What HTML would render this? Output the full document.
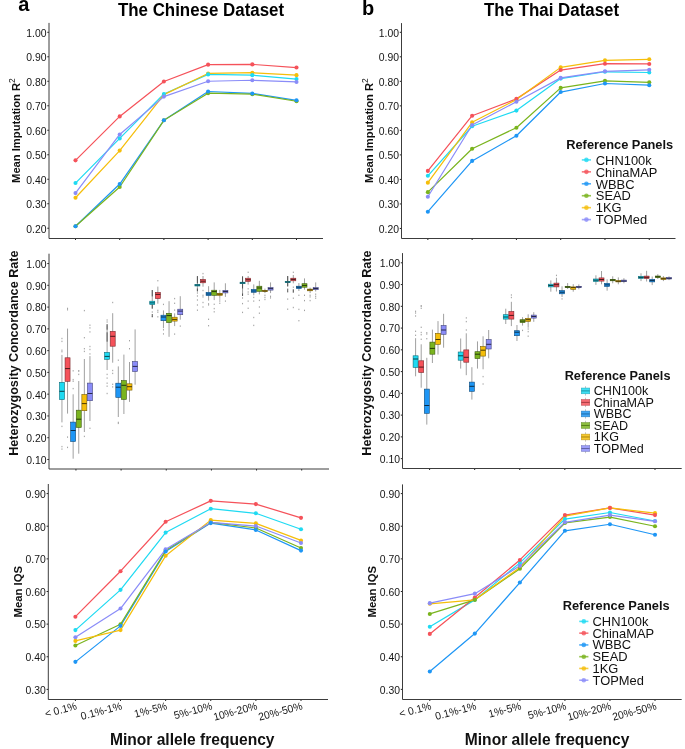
<!DOCTYPE html><html><head><meta charset="utf-8"><style>html,body{margin:0;padding:0;background:#fff}svg{display:block}text{font-family:"Liberation Sans",sans-serif}</style></head><body><div style="will-change:transform">
<svg width="685" height="749" viewBox="0 0 685 749" font-family="Liberation Sans, sans-serif">
<rect width="685" height="749" fill="#fff"/>
<text transform="translate(18.20,10.80) scale(1,1.04)" font-size="20" font-weight="bold" fill="#000">a</text>
<text transform="translate(361.90,14.80) scale(1,1.04)" font-size="20" font-weight="bold" fill="#000">b</text>
<text transform="translate(201.00,15.50) scale(1,1.04)" text-anchor="middle" font-size="16.9" font-weight="bold" fill="#000">The Chinese Dataset</text>
<text transform="translate(551.50,15.50) scale(1,1.04)" text-anchor="middle" font-size="16.9" font-weight="bold" fill="#000">The Thai Dataset</text>
<text transform="translate(20.20,130.60) rotate(-90) scale(1,1.04)" text-anchor="middle" font-size="11.2" font-weight="bold" fill="#111">Mean Imputation R<tspan font-size="8.4" font-weight="normal" dy="-5.0">2</tspan></text>
<text transform="translate(373.10,130.60) rotate(-90) scale(1,1.04)" text-anchor="middle" font-size="11.2" font-weight="bold" fill="#111">Mean Imputation R<tspan font-size="8.4" font-weight="normal" dy="-5.0">2</tspan></text>
<text transform="translate(17.80,353.15) rotate(-90) scale(1,1.04)" text-anchor="middle" font-size="12.62" font-weight="bold" fill="#111">Heterozygosity Concordance Rate</text>
<text transform="translate(371.00,353.05) rotate(-90) scale(1,1.04)" text-anchor="middle" font-size="12.62" font-weight="bold" fill="#111">Heterozygosity Concordance Rate</text>
<text transform="translate(22.00,591.70) rotate(-90) scale(1,1.04)" text-anchor="middle" font-size="11.3" font-weight="bold" fill="#111">Mean IQS</text>
<text transform="translate(375.60,591.70) rotate(-90) scale(1,1.04)" text-anchor="middle" font-size="11.3" font-weight="bold" fill="#111">Mean IQS</text>
<text transform="translate(192.20,744.60) scale(1,1.04)" text-anchor="middle" font-size="15.6" font-weight="bold" fill="#111">Minor allele frequency</text>
<text transform="translate(547.10,744.60) scale(1,1.04)" text-anchor="middle" font-size="15.6" font-weight="bold" fill="#111">Minor allele frequency</text>
<text transform="translate(46.50,232.57)" text-anchor="end" font-size="10.4" fill="#151515">0.20</text>
<line x1="47.30" y1="228.22" x2="49.00" y2="228.22" stroke="#222" stroke-width="1"/>
<text transform="translate(46.50,208.08)" text-anchor="end" font-size="10.4" fill="#151515">0.30</text>
<line x1="47.30" y1="203.73" x2="49.00" y2="203.73" stroke="#222" stroke-width="1"/>
<text transform="translate(46.50,183.59)" text-anchor="end" font-size="10.4" fill="#151515">0.40</text>
<line x1="47.30" y1="179.24" x2="49.00" y2="179.24" stroke="#222" stroke-width="1"/>
<text transform="translate(46.50,159.10)" text-anchor="end" font-size="10.4" fill="#151515">0.50</text>
<line x1="47.30" y1="154.75" x2="49.00" y2="154.75" stroke="#222" stroke-width="1"/>
<text transform="translate(46.50,134.61)" text-anchor="end" font-size="10.4" fill="#151515">0.60</text>
<line x1="47.30" y1="130.26" x2="49.00" y2="130.26" stroke="#222" stroke-width="1"/>
<text transform="translate(46.50,110.12)" text-anchor="end" font-size="10.4" fill="#151515">0.70</text>
<line x1="47.30" y1="105.77" x2="49.00" y2="105.77" stroke="#222" stroke-width="1"/>
<text transform="translate(46.50,85.63)" text-anchor="end" font-size="10.4" fill="#151515">0.80</text>
<line x1="47.30" y1="81.28" x2="49.00" y2="81.28" stroke="#222" stroke-width="1"/>
<text transform="translate(46.50,61.14)" text-anchor="end" font-size="10.4" fill="#151515">0.90</text>
<line x1="47.30" y1="56.79" x2="49.00" y2="56.79" stroke="#222" stroke-width="1"/>
<text transform="translate(46.50,36.65)" text-anchor="end" font-size="10.4" fill="#151515">1.00</text>
<line x1="47.30" y1="32.30" x2="49.00" y2="32.30" stroke="#222" stroke-width="1"/>
<line x1="75.50" y1="238.50" x2="75.50" y2="240.00" stroke="#222" stroke-width="1"/>
<line x1="119.70" y1="238.50" x2="119.70" y2="240.00" stroke="#222" stroke-width="1"/>
<line x1="163.90" y1="238.50" x2="163.90" y2="240.00" stroke="#222" stroke-width="1"/>
<line x1="208.10" y1="238.50" x2="208.10" y2="240.00" stroke="#222" stroke-width="1"/>
<line x1="252.30" y1="238.50" x2="252.30" y2="240.00" stroke="#222" stroke-width="1"/>
<line x1="296.50" y1="238.50" x2="296.50" y2="240.00" stroke="#222" stroke-width="1"/>
<path d="M49.00,22.90 V238.50 H323.00" fill="none" stroke="#3c3c3c" stroke-width="1.0"/>
<polyline points="75.50,183.07 119.70,138.38 163.90,93.94 208.10,74.40 252.30,75.14 296.50,79.04" fill="none" stroke="#1EDAF2" stroke-width="1.22" stroke-linejoin="round"/>
<polyline points="75.50,160.36 119.70,116.40 163.90,81.48 208.10,64.63 252.30,64.39 296.50,67.56" fill="none" stroke="#F5525A" stroke-width="1.22" stroke-linejoin="round"/>
<polyline points="75.50,226.29 119.70,184.05 163.90,120.31 208.10,91.50 252.30,93.45 296.50,100.29" fill="none" stroke="#1E96F5" stroke-width="1.22" stroke-linejoin="round"/>
<polyline points="75.50,226.29 119.70,186.98 163.90,120.31 208.10,93.21 252.30,94.18 296.50,101.26" fill="none" stroke="#7AB41E" stroke-width="1.22" stroke-linejoin="round"/>
<polyline points="75.50,197.72 119.70,150.59 163.90,94.67 208.10,73.43 252.30,72.69 296.50,75.14" fill="none" stroke="#F5BE0A" stroke-width="1.22" stroke-linejoin="round"/>
<polyline points="75.50,193.08 119.70,134.48 163.90,96.62 208.10,81.24 252.30,80.26 296.50,81.97" fill="none" stroke="#8A8CF8" stroke-width="1.22" stroke-linejoin="round"/>
<circle cx="75.50" cy="197.72" r="2.05" fill="#F5BE0A"/>
<circle cx="119.70" cy="150.59" r="2.05" fill="#F5BE0A"/>
<circle cx="163.90" cy="94.67" r="2.05" fill="#F5BE0A"/>
<circle cx="208.10" cy="73.43" r="2.05" fill="#F5BE0A"/>
<circle cx="252.30" cy="72.69" r="2.05" fill="#F5BE0A"/>
<circle cx="296.50" cy="75.14" r="2.05" fill="#F5BE0A"/>
<circle cx="75.50" cy="183.07" r="2.05" fill="#1EDAF2"/>
<circle cx="119.70" cy="138.38" r="2.05" fill="#1EDAF2"/>
<circle cx="163.90" cy="93.94" r="2.05" fill="#1EDAF2"/>
<circle cx="208.10" cy="74.40" r="2.05" fill="#1EDAF2"/>
<circle cx="252.30" cy="75.14" r="2.05" fill="#1EDAF2"/>
<circle cx="296.50" cy="79.04" r="2.05" fill="#1EDAF2"/>
<circle cx="75.50" cy="160.36" r="2.05" fill="#F5525A"/>
<circle cx="119.70" cy="116.40" r="2.05" fill="#F5525A"/>
<circle cx="163.90" cy="81.48" r="2.05" fill="#F5525A"/>
<circle cx="208.10" cy="64.63" r="2.05" fill="#F5525A"/>
<circle cx="252.30" cy="64.39" r="2.05" fill="#F5525A"/>
<circle cx="296.50" cy="67.56" r="2.05" fill="#F5525A"/>
<circle cx="75.50" cy="226.29" r="2.05" fill="#7AB41E"/>
<circle cx="119.70" cy="186.98" r="2.05" fill="#7AB41E"/>
<circle cx="163.90" cy="120.31" r="2.05" fill="#7AB41E"/>
<circle cx="208.10" cy="93.21" r="2.05" fill="#7AB41E"/>
<circle cx="252.30" cy="94.18" r="2.05" fill="#7AB41E"/>
<circle cx="296.50" cy="101.26" r="2.05" fill="#7AB41E"/>
<circle cx="75.50" cy="193.08" r="2.05" fill="#8A8CF8"/>
<circle cx="119.70" cy="134.48" r="2.05" fill="#8A8CF8"/>
<circle cx="163.90" cy="96.62" r="2.05" fill="#8A8CF8"/>
<circle cx="208.10" cy="81.24" r="2.05" fill="#8A8CF8"/>
<circle cx="252.30" cy="80.26" r="2.05" fill="#8A8CF8"/>
<circle cx="296.50" cy="81.97" r="2.05" fill="#8A8CF8"/>
<circle cx="75.50" cy="226.29" r="2.05" fill="#1E96F5"/>
<circle cx="119.70" cy="184.05" r="2.05" fill="#1E96F5"/>
<circle cx="163.90" cy="120.31" r="2.05" fill="#1E96F5"/>
<circle cx="208.10" cy="91.50" r="2.05" fill="#1E96F5"/>
<circle cx="252.30" cy="93.45" r="2.05" fill="#1E96F5"/>
<circle cx="296.50" cy="100.29" r="2.05" fill="#1E96F5"/>
<text transform="translate(399.00,232.81)" text-anchor="end" font-size="10.4" fill="#151515">0.20</text>
<line x1="399.80" y1="228.46" x2="401.50" y2="228.46" stroke="#222" stroke-width="1"/>
<text transform="translate(399.00,208.29)" text-anchor="end" font-size="10.4" fill="#151515">0.30</text>
<line x1="399.80" y1="203.94" x2="401.50" y2="203.94" stroke="#222" stroke-width="1"/>
<text transform="translate(399.00,183.77)" text-anchor="end" font-size="10.4" fill="#151515">0.40</text>
<line x1="399.80" y1="179.42" x2="401.50" y2="179.42" stroke="#222" stroke-width="1"/>
<text transform="translate(399.00,159.25)" text-anchor="end" font-size="10.4" fill="#151515">0.50</text>
<line x1="399.80" y1="154.90" x2="401.50" y2="154.90" stroke="#222" stroke-width="1"/>
<text transform="translate(399.00,134.73)" text-anchor="end" font-size="10.4" fill="#151515">0.60</text>
<line x1="399.80" y1="130.38" x2="401.50" y2="130.38" stroke="#222" stroke-width="1"/>
<text transform="translate(399.00,110.21)" text-anchor="end" font-size="10.4" fill="#151515">0.70</text>
<line x1="399.80" y1="105.86" x2="401.50" y2="105.86" stroke="#222" stroke-width="1"/>
<text transform="translate(399.00,85.69)" text-anchor="end" font-size="10.4" fill="#151515">0.80</text>
<line x1="399.80" y1="81.34" x2="401.50" y2="81.34" stroke="#222" stroke-width="1"/>
<text transform="translate(399.00,61.17)" text-anchor="end" font-size="10.4" fill="#151515">0.90</text>
<line x1="399.80" y1="56.82" x2="401.50" y2="56.82" stroke="#222" stroke-width="1"/>
<text transform="translate(399.00,36.65)" text-anchor="end" font-size="10.4" fill="#151515">1.00</text>
<line x1="399.80" y1="32.30" x2="401.50" y2="32.30" stroke="#222" stroke-width="1"/>
<line x1="427.85" y1="238.50" x2="427.85" y2="240.00" stroke="#222" stroke-width="1"/>
<line x1="472.13" y1="238.50" x2="472.13" y2="240.00" stroke="#222" stroke-width="1"/>
<line x1="516.41" y1="238.50" x2="516.41" y2="240.00" stroke="#222" stroke-width="1"/>
<line x1="560.69" y1="238.50" x2="560.69" y2="240.00" stroke="#222" stroke-width="1"/>
<line x1="604.97" y1="238.50" x2="604.97" y2="240.00" stroke="#222" stroke-width="1"/>
<line x1="649.25" y1="238.50" x2="649.25" y2="240.00" stroke="#222" stroke-width="1"/>
<path d="M401.50,23.10 V238.50 H675.50" fill="none" stroke="#3c3c3c" stroke-width="1.0"/>
<polyline points="427.85,175.80 472.13,126.23 516.41,110.60 560.69,78.61 604.97,71.77 649.25,72.50" fill="none" stroke="#1EDAF2" stroke-width="1.22" stroke-linejoin="round"/>
<polyline points="427.85,170.92 472.13,115.73 516.41,98.88 560.69,70.06 604.97,63.71 649.25,63.96" fill="none" stroke="#F5525A" stroke-width="1.22" stroke-linejoin="round"/>
<polyline points="427.85,211.70 472.13,160.91 516.41,135.75 560.69,92.04 604.97,83.49 649.25,85.20" fill="none" stroke="#1E96F5" stroke-width="1.22" stroke-linejoin="round"/>
<polyline points="427.85,192.16 472.13,148.69 516.41,127.69 560.69,87.89 604.97,80.81 649.25,82.27" fill="none" stroke="#7AB41E" stroke-width="1.22" stroke-linejoin="round"/>
<polyline points="427.85,182.64 472.13,122.32 516.41,99.61 560.69,67.38 604.97,60.29 649.25,59.32" fill="none" stroke="#F5BE0A" stroke-width="1.22" stroke-linejoin="round"/>
<polyline points="427.85,196.80 472.13,125.01 516.41,101.81 560.69,77.88 604.97,71.28 649.25,69.82" fill="none" stroke="#8A8CF8" stroke-width="1.22" stroke-linejoin="round"/>
<circle cx="427.85" cy="182.64" r="2.05" fill="#F5BE0A"/>
<circle cx="472.13" cy="122.32" r="2.05" fill="#F5BE0A"/>
<circle cx="516.41" cy="99.61" r="2.05" fill="#F5BE0A"/>
<circle cx="560.69" cy="67.38" r="2.05" fill="#F5BE0A"/>
<circle cx="604.97" cy="60.29" r="2.05" fill="#F5BE0A"/>
<circle cx="649.25" cy="59.32" r="2.05" fill="#F5BE0A"/>
<circle cx="427.85" cy="175.80" r="2.05" fill="#1EDAF2"/>
<circle cx="472.13" cy="126.23" r="2.05" fill="#1EDAF2"/>
<circle cx="516.41" cy="110.60" r="2.05" fill="#1EDAF2"/>
<circle cx="560.69" cy="78.61" r="2.05" fill="#1EDAF2"/>
<circle cx="604.97" cy="71.77" r="2.05" fill="#1EDAF2"/>
<circle cx="649.25" cy="72.50" r="2.05" fill="#1EDAF2"/>
<circle cx="427.85" cy="170.92" r="2.05" fill="#F5525A"/>
<circle cx="472.13" cy="115.73" r="2.05" fill="#F5525A"/>
<circle cx="516.41" cy="98.88" r="2.05" fill="#F5525A"/>
<circle cx="560.69" cy="70.06" r="2.05" fill="#F5525A"/>
<circle cx="604.97" cy="63.71" r="2.05" fill="#F5525A"/>
<circle cx="649.25" cy="63.96" r="2.05" fill="#F5525A"/>
<circle cx="427.85" cy="192.16" r="2.05" fill="#7AB41E"/>
<circle cx="472.13" cy="148.69" r="2.05" fill="#7AB41E"/>
<circle cx="516.41" cy="127.69" r="2.05" fill="#7AB41E"/>
<circle cx="560.69" cy="87.89" r="2.05" fill="#7AB41E"/>
<circle cx="604.97" cy="80.81" r="2.05" fill="#7AB41E"/>
<circle cx="649.25" cy="82.27" r="2.05" fill="#7AB41E"/>
<circle cx="427.85" cy="196.80" r="2.05" fill="#8A8CF8"/>
<circle cx="472.13" cy="125.01" r="2.05" fill="#8A8CF8"/>
<circle cx="516.41" cy="101.81" r="2.05" fill="#8A8CF8"/>
<circle cx="560.69" cy="77.88" r="2.05" fill="#8A8CF8"/>
<circle cx="604.97" cy="71.28" r="2.05" fill="#8A8CF8"/>
<circle cx="649.25" cy="69.82" r="2.05" fill="#8A8CF8"/>
<circle cx="427.85" cy="211.70" r="2.05" fill="#1E96F5"/>
<circle cx="472.13" cy="160.91" r="2.05" fill="#1E96F5"/>
<circle cx="516.41" cy="135.75" r="2.05" fill="#1E96F5"/>
<circle cx="560.69" cy="92.04" r="2.05" fill="#1E96F5"/>
<circle cx="604.97" cy="83.49" r="2.05" fill="#1E96F5"/>
<circle cx="649.25" cy="85.20" r="2.05" fill="#1E96F5"/>
<text transform="translate(46.50,463.83)" text-anchor="end" font-size="10.4" fill="#151515">0.10</text>
<line x1="47.30" y1="459.48" x2="49.00" y2="459.48" stroke="#222" stroke-width="1"/>
<text transform="translate(46.50,442.06)" text-anchor="end" font-size="10.4" fill="#151515">0.20</text>
<line x1="47.30" y1="437.71" x2="49.00" y2="437.71" stroke="#222" stroke-width="1"/>
<text transform="translate(46.50,420.29)" text-anchor="end" font-size="10.4" fill="#151515">0.30</text>
<line x1="47.30" y1="415.94" x2="49.00" y2="415.94" stroke="#222" stroke-width="1"/>
<text transform="translate(46.50,398.52)" text-anchor="end" font-size="10.4" fill="#151515">0.40</text>
<line x1="47.30" y1="394.17" x2="49.00" y2="394.17" stroke="#222" stroke-width="1"/>
<text transform="translate(46.50,376.75)" text-anchor="end" font-size="10.4" fill="#151515">0.50</text>
<line x1="47.30" y1="372.40" x2="49.00" y2="372.40" stroke="#222" stroke-width="1"/>
<text transform="translate(46.50,354.98)" text-anchor="end" font-size="10.4" fill="#151515">0.60</text>
<line x1="47.30" y1="350.63" x2="49.00" y2="350.63" stroke="#222" stroke-width="1"/>
<text transform="translate(46.50,333.21)" text-anchor="end" font-size="10.4" fill="#151515">0.70</text>
<line x1="47.30" y1="328.86" x2="49.00" y2="328.86" stroke="#222" stroke-width="1"/>
<text transform="translate(46.50,311.44)" text-anchor="end" font-size="10.4" fill="#151515">0.80</text>
<line x1="47.30" y1="307.09" x2="49.00" y2="307.09" stroke="#222" stroke-width="1"/>
<text transform="translate(46.50,289.67)" text-anchor="end" font-size="10.4" fill="#151515">0.90</text>
<line x1="47.30" y1="285.32" x2="49.00" y2="285.32" stroke="#222" stroke-width="1"/>
<text transform="translate(46.50,267.90)" text-anchor="end" font-size="10.4" fill="#151515">1.00</text>
<line x1="47.30" y1="263.55" x2="49.00" y2="263.55" stroke="#222" stroke-width="1"/>
<line x1="75.95" y1="469.00" x2="75.95" y2="470.50" stroke="#222" stroke-width="1"/>
<line x1="121.10" y1="469.00" x2="121.10" y2="470.50" stroke="#222" stroke-width="1"/>
<line x1="166.25" y1="469.00" x2="166.25" y2="470.50" stroke="#222" stroke-width="1"/>
<line x1="211.40" y1="469.00" x2="211.40" y2="470.50" stroke="#222" stroke-width="1"/>
<line x1="256.55" y1="469.00" x2="256.55" y2="470.50" stroke="#222" stroke-width="1"/>
<line x1="301.70" y1="469.00" x2="301.70" y2="470.50" stroke="#222" stroke-width="1"/>
<path d="M49.00,253.70 V469.00 H329.00" fill="none" stroke="#3c3c3c" stroke-width="1.0"/>
<line x1="61.95" y1="354.90" x2="61.95" y2="422.40" stroke="#a0a0a0" stroke-width="1.0"/>
<line x1="67.55" y1="328.60" x2="67.55" y2="413.60" stroke="#a0a0a0" stroke-width="1.0"/>
<line x1="73.15" y1="394.30" x2="73.15" y2="458.70" stroke="#a0a0a0" stroke-width="1.0"/>
<line x1="78.75" y1="381.00" x2="78.75" y2="453.70" stroke="#a0a0a0" stroke-width="1.0"/>
<line x1="84.35" y1="359.00" x2="84.35" y2="432.00" stroke="#a0a0a0" stroke-width="1.0"/>
<line x1="89.95" y1="356.10" x2="89.95" y2="421.00" stroke="#a0a0a0" stroke-width="1.0"/>
<line x1="107.10" y1="325.20" x2="107.10" y2="370.00" stroke="#a0a0a0" stroke-width="1.0"/>
<line x1="112.70" y1="313.20" x2="112.70" y2="362.70" stroke="#a0a0a0" stroke-width="1.0"/>
<line x1="118.30" y1="366.40" x2="118.30" y2="417.00" stroke="#a0a0a0" stroke-width="1.0"/>
<line x1="123.90" y1="354.60" x2="123.90" y2="414.00" stroke="#a0a0a0" stroke-width="1.0"/>
<line x1="129.50" y1="362.00" x2="129.50" y2="401.90" stroke="#a0a0a0" stroke-width="1.0"/>
<line x1="135.10" y1="329.40" x2="135.10" y2="384.70" stroke="#a0a0a0" stroke-width="1.0"/>
<line x1="152.25" y1="290.10" x2="152.25" y2="308.50" stroke="#a0a0a0" stroke-width="1.0"/>
<line x1="157.85" y1="286.60" x2="157.85" y2="303.70" stroke="#a0a0a0" stroke-width="1.0"/>
<line x1="163.45" y1="310.40" x2="163.45" y2="328.20" stroke="#a0a0a0" stroke-width="1.0"/>
<line x1="169.05" y1="301.20" x2="169.05" y2="336.80" stroke="#a0a0a0" stroke-width="1.0"/>
<line x1="174.65" y1="313.30" x2="174.65" y2="326.10" stroke="#a0a0a0" stroke-width="1.0"/>
<line x1="180.25" y1="296.20" x2="180.25" y2="319.70" stroke="#a0a0a0" stroke-width="1.0"/>
<line x1="197.40" y1="276.60" x2="197.40" y2="291.00" stroke="#a0a0a0" stroke-width="1.0"/>
<line x1="203.00" y1="276.00" x2="203.00" y2="286.70" stroke="#a0a0a0" stroke-width="1.0"/>
<line x1="208.60" y1="286.20" x2="208.60" y2="300.60" stroke="#a0a0a0" stroke-width="1.0"/>
<line x1="214.20" y1="282.40" x2="214.20" y2="300.10" stroke="#a0a0a0" stroke-width="1.0"/>
<line x1="219.80" y1="289.90" x2="219.80" y2="297.90" stroke="#a0a0a0" stroke-width="1.0"/>
<line x1="225.40" y1="283.30" x2="225.40" y2="296.90" stroke="#a0a0a0" stroke-width="1.0"/>
<line x1="242.55" y1="276.60" x2="242.55" y2="295.30" stroke="#a0a0a0" stroke-width="1.0"/>
<line x1="248.15" y1="276.00" x2="248.15" y2="284.60" stroke="#a0a0a0" stroke-width="1.0"/>
<line x1="253.75" y1="284.40" x2="253.75" y2="295.30" stroke="#a0a0a0" stroke-width="1.0"/>
<line x1="259.35" y1="280.80" x2="259.35" y2="294.40" stroke="#a0a0a0" stroke-width="1.0"/>
<line x1="264.95" y1="288.60" x2="264.95" y2="293.10" stroke="#a0a0a0" stroke-width="1.0"/>
<line x1="270.55" y1="282.40" x2="270.55" y2="293.10" stroke="#a0a0a0" stroke-width="1.0"/>
<line x1="287.70" y1="276.20" x2="287.70" y2="286.20" stroke="#a0a0a0" stroke-width="1.0"/>
<line x1="293.30" y1="275.00" x2="293.30" y2="283.30" stroke="#a0a0a0" stroke-width="1.0"/>
<line x1="298.90" y1="283.00" x2="298.90" y2="291.00" stroke="#a0a0a0" stroke-width="1.0"/>
<line x1="304.50" y1="278.40" x2="304.50" y2="289.70" stroke="#a0a0a0" stroke-width="1.0"/>
<line x1="310.10" y1="287.60" x2="310.10" y2="293.10" stroke="#a0a0a0" stroke-width="1.0"/>
<line x1="315.70" y1="282.40" x2="315.70" y2="291.50" stroke="#a0a0a0" stroke-width="1.0"/>
<rect x="59.45" y="382.30" width="5.00" height="17.30" fill="#1EDAF2" stroke="#0f6d79" stroke-width="0.6"/>
<line x1="59.45" y1="391.30" x2="64.45" y2="391.30" stroke="#094148" stroke-width="1.0"/>
<rect x="65.05" y="357.80" width="5.00" height="23.50" fill="#F5525A" stroke="#7a292d" stroke-width="0.6"/>
<line x1="65.05" y1="368.60" x2="70.05" y2="368.60" stroke="#49181b" stroke-width="1.0"/>
<rect x="70.65" y="422.10" width="5.00" height="19.40" fill="#1E96F5" stroke="#0f4b7a" stroke-width="0.6"/>
<line x1="70.65" y1="430.50" x2="75.65" y2="430.50" stroke="#092d49" stroke-width="1.0"/>
<rect x="76.25" y="410.20" width="5.00" height="17.30" fill="#7AB41E" stroke="#3d5a0f" stroke-width="0.6"/>
<line x1="76.25" y1="419.20" x2="81.25" y2="419.20" stroke="#243609" stroke-width="1.0"/>
<rect x="81.85" y="394.50" width="5.00" height="16.20" fill="#F5BE0A" stroke="#7a5f05" stroke-width="0.6"/>
<line x1="81.85" y1="403.60" x2="86.85" y2="403.60" stroke="#493903" stroke-width="1.0"/>
<rect x="87.45" y="383.10" width="5.00" height="17.60" fill="#8A8CF8" stroke="#45467c" stroke-width="0.6"/>
<line x1="87.45" y1="393.50" x2="92.45" y2="393.50" stroke="#292a4a" stroke-width="1.0"/>
<rect x="104.60" y="352.40" width="5.00" height="6.90" fill="#1EDAF2" stroke="#0f6d79" stroke-width="0.6"/>
<line x1="104.60" y1="356.40" x2="109.60" y2="356.40" stroke="#094148" stroke-width="1.0"/>
<rect x="110.20" y="331.40" width="5.00" height="14.80" fill="#F5525A" stroke="#7a292d" stroke-width="0.6"/>
<line x1="110.20" y1="336.30" x2="115.20" y2="336.30" stroke="#49181b" stroke-width="1.0"/>
<rect x="115.80" y="383.20" width="5.00" height="14.20" fill="#1E96F5" stroke="#0f4b7a" stroke-width="0.6"/>
<line x1="115.80" y1="387.20" x2="120.80" y2="387.20" stroke="#092d49" stroke-width="1.0"/>
<rect x="121.40" y="380.60" width="5.00" height="18.80" fill="#7AB41E" stroke="#3d5a0f" stroke-width="0.6"/>
<line x1="121.40" y1="385.30" x2="126.40" y2="385.30" stroke="#243609" stroke-width="1.0"/>
<rect x="127.00" y="383.80" width="5.00" height="6.30" fill="#F5BE0A" stroke="#7a5f05" stroke-width="0.6"/>
<line x1="127.00" y1="386.70" x2="132.00" y2="386.70" stroke="#493903" stroke-width="1.0"/>
<rect x="132.60" y="361.50" width="5.00" height="10.00" fill="#8A8CF8" stroke="#45467c" stroke-width="0.6"/>
<line x1="132.60" y1="366.40" x2="137.60" y2="366.40" stroke="#292a4a" stroke-width="1.0"/>
<rect x="149.75" y="301.20" width="5.00" height="3.30" fill="#1EDAF2" stroke="#0f6d79" stroke-width="0.6"/>
<line x1="149.75" y1="302.90" x2="154.75" y2="302.90" stroke="#094148" stroke-width="1.0"/>
<rect x="155.35" y="292.40" width="5.00" height="6.20" fill="#F5525A" stroke="#7a292d" stroke-width="0.6"/>
<line x1="155.35" y1="294.40" x2="160.35" y2="294.40" stroke="#49181b" stroke-width="1.0"/>
<rect x="160.95" y="315.20" width="5.00" height="5.50" fill="#1E96F5" stroke="#0f4b7a" stroke-width="0.6"/>
<line x1="160.95" y1="317.00" x2="165.95" y2="317.00" stroke="#092d49" stroke-width="1.0"/>
<rect x="166.55" y="313.30" width="5.00" height="9.30" fill="#7AB41E" stroke="#3d5a0f" stroke-width="0.6"/>
<line x1="166.55" y1="315.60" x2="171.55" y2="315.60" stroke="#243609" stroke-width="1.0"/>
<rect x="172.15" y="317.20" width="5.00" height="3.90" fill="#F5BE0A" stroke="#7a5f05" stroke-width="0.6"/>
<line x1="172.15" y1="319.40" x2="177.15" y2="319.40" stroke="#493903" stroke-width="1.0"/>
<rect x="177.75" y="309.20" width="5.00" height="5.50" fill="#8A8CF8" stroke="#45467c" stroke-width="0.6"/>
<line x1="177.75" y1="311.10" x2="182.75" y2="311.10" stroke="#292a4a" stroke-width="1.0"/>
<rect x="194.90" y="284.40" width="5.00" height="1.60" fill="#1EDAF2" stroke="#0f6d79" stroke-width="0.6"/>
<line x1="194.90" y1="285.10" x2="199.90" y2="285.10" stroke="#094148" stroke-width="1.0"/>
<rect x="200.50" y="279.40" width="5.00" height="3.40" fill="#F5525A" stroke="#7a292d" stroke-width="0.6"/>
<line x1="200.50" y1="281.20" x2="205.50" y2="281.20" stroke="#49181b" stroke-width="1.0"/>
<rect x="206.10" y="292.30" width="5.00" height="3.30" fill="#1E96F5" stroke="#0f4b7a" stroke-width="0.6"/>
<line x1="206.10" y1="294.00" x2="211.10" y2="294.00" stroke="#092d49" stroke-width="1.0"/>
<rect x="211.70" y="290.20" width="5.00" height="5.10" fill="#7AB41E" stroke="#3d5a0f" stroke-width="0.6"/>
<line x1="211.70" y1="291.60" x2="216.70" y2="291.60" stroke="#243609" stroke-width="1.0"/>
<rect x="217.30" y="293.30" width="5.00" height="2.00" fill="#F5BE0A" stroke="#7a5f05" stroke-width="0.6"/>
<line x1="217.30" y1="294.20" x2="222.30" y2="294.20" stroke="#493903" stroke-width="1.0"/>
<rect x="222.90" y="290.40" width="5.00" height="2.50" fill="#8A8CF8" stroke="#45467c" stroke-width="0.6"/>
<line x1="222.90" y1="291.50" x2="227.90" y2="291.50" stroke="#292a4a" stroke-width="1.0"/>
<rect x="240.05" y="282.20" width="5.00" height="1.50" fill="#1EDAF2" stroke="#0f6d79" stroke-width="0.6"/>
<line x1="240.05" y1="282.90" x2="245.05" y2="282.90" stroke="#094148" stroke-width="1.0"/>
<rect x="245.65" y="278.20" width="5.00" height="3.20" fill="#F5525A" stroke="#7a292d" stroke-width="0.6"/>
<line x1="245.65" y1="279.80" x2="250.65" y2="279.80" stroke="#49181b" stroke-width="1.0"/>
<rect x="251.25" y="289.40" width="5.00" height="2.90" fill="#1E96F5" stroke="#0f4b7a" stroke-width="0.6"/>
<line x1="251.25" y1="291.00" x2="256.25" y2="291.00" stroke="#092d49" stroke-width="1.0"/>
<rect x="256.85" y="286.20" width="5.00" height="5.10" fill="#7AB41E" stroke="#3d5a0f" stroke-width="0.6"/>
<line x1="256.85" y1="288.00" x2="261.85" y2="288.00" stroke="#243609" stroke-width="1.0"/>
<rect x="262.45" y="290.40" width="5.00" height="1.10" fill="#F5BE0A" stroke="#7a5f05" stroke-width="0.6"/>
<line x1="262.45" y1="291.00" x2="267.45" y2="291.00" stroke="#493903" stroke-width="1.0"/>
<rect x="268.05" y="287.60" width="5.00" height="2.50" fill="#8A8CF8" stroke="#45467c" stroke-width="0.6"/>
<line x1="268.05" y1="288.60" x2="273.05" y2="288.60" stroke="#292a4a" stroke-width="1.0"/>
<rect x="285.20" y="281.40" width="5.00" height="1.20" fill="#1EDAF2" stroke="#0f6d79" stroke-width="0.6"/>
<line x1="285.20" y1="282.00" x2="290.20" y2="282.00" stroke="#094148" stroke-width="1.0"/>
<rect x="290.80" y="278.20" width="5.00" height="2.60" fill="#F5525A" stroke="#7a292d" stroke-width="0.6"/>
<line x1="290.80" y1="279.40" x2="295.80" y2="279.40" stroke="#49181b" stroke-width="1.0"/>
<rect x="296.40" y="286.20" width="5.00" height="2.40" fill="#1E96F5" stroke="#0f4b7a" stroke-width="0.6"/>
<line x1="296.40" y1="287.20" x2="301.40" y2="287.20" stroke="#092d49" stroke-width="1.0"/>
<rect x="302.00" y="283.70" width="5.00" height="3.50" fill="#7AB41E" stroke="#3d5a0f" stroke-width="0.6"/>
<line x1="302.00" y1="285.40" x2="307.00" y2="285.40" stroke="#243609" stroke-width="1.0"/>
<rect x="307.60" y="289.10" width="5.00" height="1.70" fill="#F5BE0A" stroke="#7a5f05" stroke-width="0.6"/>
<line x1="307.60" y1="289.90" x2="312.60" y2="289.90" stroke="#493903" stroke-width="1.0"/>
<rect x="313.20" y="287.60" width="5.00" height="2.10" fill="#8A8CF8" stroke="#45467c" stroke-width="0.6"/>
<line x1="313.20" y1="288.50" x2="318.20" y2="288.50" stroke="#292a4a" stroke-width="1.0"/>
<rect x="61.45" y="425.70" width="1.0" height="1.4" fill="#a0a0a0"/>
<rect x="61.45" y="445.90" width="1.0" height="1.4" fill="#a0a0a0"/>
<rect x="61.45" y="448.40" width="1.0" height="1.4" fill="#a0a0a0"/>
<rect x="61.45" y="337.80" width="1.0" height="1.4" fill="#a0a0a0"/>
<rect x="61.45" y="340.70" width="1.0" height="1.4" fill="#a0a0a0"/>
<rect x="61.45" y="349.50" width="1.0" height="1.4" fill="#a0a0a0"/>
<rect x="61.45" y="351.00" width="1.0" height="1.4" fill="#a0a0a0"/>
<rect x="67.05" y="307.70" width="1.0" height="1.4" fill="#a0a0a0"/>
<rect x="67.05" y="309.10" width="1.0" height="1.4" fill="#a0a0a0"/>
<rect x="67.05" y="436.40" width="1.0" height="1.4" fill="#a0a0a0"/>
<rect x="67.05" y="446.70" width="1.0" height="1.4" fill="#a0a0a0"/>
<rect x="72.65" y="370.10" width="1.0" height="1.4" fill="#a0a0a0"/>
<rect x="72.65" y="378.90" width="1.0" height="1.4" fill="#a0a0a0"/>
<rect x="72.65" y="380.60" width="1.0" height="1.4" fill="#a0a0a0"/>
<rect x="72.65" y="387.90" width="1.0" height="1.4" fill="#a0a0a0"/>
<rect x="78.25" y="370.10" width="1.0" height="1.4" fill="#a0a0a0"/>
<rect x="78.25" y="373.70" width="1.0" height="1.4" fill="#a0a0a0"/>
<rect x="78.25" y="370.30" width="1.0" height="1.4" fill="#a0a0a0"/>
<rect x="83.85" y="309.90" width="1.0" height="1.4" fill="#a0a0a0"/>
<rect x="83.85" y="337.00" width="1.0" height="1.4" fill="#a0a0a0"/>
<rect x="83.85" y="348.00" width="1.0" height="1.4" fill="#a0a0a0"/>
<rect x="83.85" y="350.70" width="1.0" height="1.4" fill="#a0a0a0"/>
<rect x="83.85" y="435.70" width="1.0" height="1.4" fill="#a0a0a0"/>
<rect x="89.45" y="324.50" width="1.0" height="1.4" fill="#a0a0a0"/>
<rect x="89.45" y="327.20" width="1.0" height="1.4" fill="#a0a0a0"/>
<rect x="89.45" y="331.20" width="1.0" height="1.4" fill="#a0a0a0"/>
<rect x="89.45" y="345.80" width="1.0" height="1.4" fill="#a0a0a0"/>
<rect x="89.45" y="348.80" width="1.0" height="1.4" fill="#a0a0a0"/>
<rect x="89.45" y="353.20" width="1.0" height="1.4" fill="#a0a0a0"/>
<rect x="89.45" y="427.60" width="1.0" height="1.4" fill="#a0a0a0"/>
<rect x="106.60" y="373.70" width="1.0" height="1.4" fill="#a0a0a0"/>
<rect x="106.60" y="377.40" width="1.0" height="1.4" fill="#a0a0a0"/>
<rect x="106.60" y="382.50" width="1.0" height="1.4" fill="#a0a0a0"/>
<rect x="106.60" y="385.50" width="1.0" height="1.4" fill="#a0a0a0"/>
<rect x="106.60" y="392.80" width="1.0" height="1.4" fill="#a0a0a0"/>
<rect x="106.60" y="319.30" width="1.0" height="1.4" fill="#a0a0a0"/>
<rect x="106.60" y="321.30" width="1.0" height="1.4" fill="#a0a0a0"/>
<rect x="112.20" y="301.80" width="1.0" height="1.4" fill="#a0a0a0"/>
<rect x="112.20" y="369.80" width="1.0" height="1.4" fill="#a0a0a0"/>
<rect x="112.20" y="372.70" width="1.0" height="1.4" fill="#a0a0a0"/>
<rect x="112.20" y="383.60" width="1.0" height="1.4" fill="#a0a0a0"/>
<rect x="112.20" y="386.20" width="1.0" height="1.4" fill="#a0a0a0"/>
<rect x="117.80" y="359.50" width="1.0" height="1.4" fill="#a0a0a0"/>
<rect x="117.80" y="421.70" width="1.0" height="1.4" fill="#a0a0a0"/>
<rect x="117.80" y="422.70" width="1.0" height="1.4" fill="#a0a0a0"/>
<rect x="129.00" y="340.00" width="1.0" height="1.4" fill="#a0a0a0"/>
<rect x="129.00" y="348.00" width="1.0" height="1.4" fill="#a0a0a0"/>
<rect x="151.75" y="311.30" width="1.0" height="1.4" fill="#a0a0a0"/>
<rect x="151.75" y="316.10" width="1.0" height="1.4" fill="#a0a0a0"/>
<rect x="157.35" y="280.00" width="1.0" height="1.4" fill="#a0a0a0"/>
<rect x="157.35" y="309.70" width="1.0" height="1.4" fill="#a0a0a0"/>
<rect x="157.35" y="311.50" width="1.0" height="1.4" fill="#a0a0a0"/>
<rect x="157.35" y="316.10" width="1.0" height="1.4" fill="#a0a0a0"/>
<rect x="162.95" y="303.70" width="1.0" height="1.4" fill="#a0a0a0"/>
<rect x="162.95" y="329.10" width="1.0" height="1.4" fill="#a0a0a0"/>
<rect x="162.95" y="333.20" width="1.0" height="1.4" fill="#a0a0a0"/>
<rect x="174.15" y="297.90" width="1.0" height="1.4" fill="#a0a0a0"/>
<rect x="174.15" y="302.60" width="1.0" height="1.4" fill="#a0a0a0"/>
<rect x="174.15" y="309.40" width="1.0" height="1.4" fill="#a0a0a0"/>
<rect x="174.15" y="333.40" width="1.0" height="1.4" fill="#a0a0a0"/>
<rect x="179.75" y="325.40" width="1.0" height="1.4" fill="#a0a0a0"/>
<rect x="196.90" y="292.30" width="1.0" height="1.4" fill="#a0a0a0"/>
<rect x="196.90" y="295.30" width="1.0" height="1.4" fill="#a0a0a0"/>
<rect x="196.90" y="299.30" width="1.0" height="1.4" fill="#a0a0a0"/>
<rect x="196.90" y="304.30" width="1.0" height="1.4" fill="#a0a0a0"/>
<rect x="196.90" y="309.50" width="1.0" height="1.4" fill="#a0a0a0"/>
<rect x="202.50" y="289.80" width="1.0" height="1.4" fill="#a0a0a0"/>
<rect x="202.50" y="294.60" width="1.0" height="1.4" fill="#a0a0a0"/>
<rect x="202.50" y="296.20" width="1.0" height="1.4" fill="#a0a0a0"/>
<rect x="202.50" y="301.80" width="1.0" height="1.4" fill="#a0a0a0"/>
<rect x="202.50" y="306.30" width="1.0" height="1.4" fill="#a0a0a0"/>
<rect x="202.50" y="272.90" width="1.0" height="1.4" fill="#a0a0a0"/>
<rect x="208.10" y="303.10" width="1.0" height="1.4" fill="#a0a0a0"/>
<rect x="208.10" y="304.20" width="1.0" height="1.4" fill="#a0a0a0"/>
<rect x="208.10" y="318.60" width="1.0" height="1.4" fill="#a0a0a0"/>
<rect x="208.10" y="325.00" width="1.0" height="1.4" fill="#a0a0a0"/>
<rect x="213.70" y="303.60" width="1.0" height="1.4" fill="#a0a0a0"/>
<rect x="213.70" y="307.90" width="1.0" height="1.4" fill="#a0a0a0"/>
<rect x="213.70" y="311.10" width="1.0" height="1.4" fill="#a0a0a0"/>
<rect x="219.30" y="298.30" width="1.0" height="1.4" fill="#a0a0a0"/>
<rect x="219.30" y="300.30" width="1.0" height="1.4" fill="#a0a0a0"/>
<rect x="219.30" y="302.60" width="1.0" height="1.4" fill="#a0a0a0"/>
<rect x="224.90" y="300.40" width="1.0" height="1.4" fill="#a0a0a0"/>
<rect x="242.05" y="297.30" width="1.0" height="1.4" fill="#a0a0a0"/>
<rect x="242.05" y="302.90" width="1.0" height="1.4" fill="#a0a0a0"/>
<rect x="242.05" y="311.70" width="1.0" height="1.4" fill="#a0a0a0"/>
<rect x="247.65" y="271.60" width="1.0" height="1.4" fill="#a0a0a0"/>
<rect x="247.65" y="288.10" width="1.0" height="1.4" fill="#a0a0a0"/>
<rect x="247.65" y="291.30" width="1.0" height="1.4" fill="#a0a0a0"/>
<rect x="247.65" y="293.50" width="1.0" height="1.4" fill="#a0a0a0"/>
<rect x="247.65" y="300.40" width="1.0" height="1.4" fill="#a0a0a0"/>
<rect x="247.65" y="307.60" width="1.0" height="1.4" fill="#a0a0a0"/>
<rect x="253.25" y="296.70" width="1.0" height="1.4" fill="#a0a0a0"/>
<rect x="253.25" y="300.40" width="1.0" height="1.4" fill="#a0a0a0"/>
<rect x="253.25" y="316.80" width="1.0" height="1.4" fill="#a0a0a0"/>
<rect x="253.25" y="324.70" width="1.0" height="1.4" fill="#a0a0a0"/>
<rect x="258.85" y="299.70" width="1.0" height="1.4" fill="#a0a0a0"/>
<rect x="258.85" y="306.30" width="1.0" height="1.4" fill="#a0a0a0"/>
<rect x="258.85" y="312.50" width="1.0" height="1.4" fill="#a0a0a0"/>
<rect x="264.45" y="294.60" width="1.0" height="1.4" fill="#a0a0a0"/>
<rect x="264.45" y="296.70" width="1.0" height="1.4" fill="#a0a0a0"/>
<rect x="264.45" y="298.80" width="1.0" height="1.4" fill="#a0a0a0"/>
<rect x="270.05" y="295.60" width="1.0" height="1.4" fill="#a0a0a0"/>
<rect x="270.05" y="297.20" width="1.0" height="1.4" fill="#a0a0a0"/>
<rect x="287.20" y="288.30" width="1.0" height="1.4" fill="#a0a0a0"/>
<rect x="287.20" y="291.30" width="1.0" height="1.4" fill="#a0a0a0"/>
<rect x="287.20" y="298.40" width="1.0" height="1.4" fill="#a0a0a0"/>
<rect x="287.20" y="308.50" width="1.0" height="1.4" fill="#a0a0a0"/>
<rect x="292.80" y="271.60" width="1.0" height="1.4" fill="#a0a0a0"/>
<rect x="292.80" y="286.50" width="1.0" height="1.4" fill="#a0a0a0"/>
<rect x="292.80" y="289.30" width="1.0" height="1.4" fill="#a0a0a0"/>
<rect x="292.80" y="291.30" width="1.0" height="1.4" fill="#a0a0a0"/>
<rect x="292.80" y="297.50" width="1.0" height="1.4" fill="#a0a0a0"/>
<rect x="292.80" y="306.80" width="1.0" height="1.4" fill="#a0a0a0"/>
<rect x="298.40" y="294.60" width="1.0" height="1.4" fill="#a0a0a0"/>
<rect x="298.40" y="308.70" width="1.0" height="1.4" fill="#a0a0a0"/>
<rect x="298.40" y="320.00" width="1.0" height="1.4" fill="#a0a0a0"/>
<rect x="304.00" y="294.60" width="1.0" height="1.4" fill="#a0a0a0"/>
<rect x="304.00" y="299.90" width="1.0" height="1.4" fill="#a0a0a0"/>
<rect x="304.00" y="309.70" width="1.0" height="1.4" fill="#a0a0a0"/>
<rect x="309.60" y="294.60" width="1.0" height="1.4" fill="#a0a0a0"/>
<rect x="309.60" y="296.20" width="1.0" height="1.4" fill="#a0a0a0"/>
<rect x="309.60" y="299.90" width="1.0" height="1.4" fill="#a0a0a0"/>
<rect x="315.20" y="293.50" width="1.0" height="1.4" fill="#a0a0a0"/>
<rect x="315.20" y="295.60" width="1.0" height="1.4" fill="#a0a0a0"/>
<rect x="315.20" y="297.50" width="1.0" height="1.4" fill="#a0a0a0"/>
<line x1="107.10" y1="324.00" x2="107.10" y2="329.70" stroke="#4a4a4a" stroke-width="0.9"/>
<line x1="107.10" y1="332.30" x2="107.10" y2="341.70" stroke="#4a4a4a" stroke-width="0.9"/>
<line x1="152.25" y1="290.00" x2="152.25" y2="296.40" stroke="#4a4a4a" stroke-width="0.9"/>
<line x1="152.25" y1="304.70" x2="152.25" y2="308.70" stroke="#4a4a4a" stroke-width="0.9"/>
<line x1="152.25" y1="314.00" x2="152.25" y2="317.00" stroke="#4a4a4a" stroke-width="0.9"/>
<line x1="197.40" y1="276.00" x2="197.40" y2="283.30" stroke="#4a4a4a" stroke-width="0.9"/>
<line x1="197.40" y1="288.50" x2="197.40" y2="291.50" stroke="#4a4a4a" stroke-width="0.9"/>
<line x1="242.55" y1="276.30" x2="242.55" y2="282.00" stroke="#4a4a4a" stroke-width="0.9"/>
<line x1="242.55" y1="284.00" x2="242.55" y2="288.50" stroke="#4a4a4a" stroke-width="0.9"/>
<line x1="242.55" y1="293.50" x2="242.55" y2="296.00" stroke="#4a4a4a" stroke-width="0.9"/>
<line x1="287.70" y1="276.00" x2="287.70" y2="281.30" stroke="#4a4a4a" stroke-width="0.9"/>
<line x1="287.70" y1="282.70" x2="287.70" y2="286.50" stroke="#4a4a4a" stroke-width="0.9"/>
<line x1="287.70" y1="289.20" x2="287.70" y2="291.90" stroke="#4a4a4a" stroke-width="0.9"/>
<line x1="293.30" y1="289.50" x2="293.30" y2="292.50" stroke="#4a4a4a" stroke-width="0.9"/>
<text transform="translate(400.00,462.99)" text-anchor="end" font-size="10.4" fill="#151515">0.10</text>
<line x1="400.80" y1="458.64" x2="402.50" y2="458.64" stroke="#222" stroke-width="1"/>
<text transform="translate(400.00,441.23)" text-anchor="end" font-size="10.4" fill="#151515">0.20</text>
<line x1="400.80" y1="436.88" x2="402.50" y2="436.88" stroke="#222" stroke-width="1"/>
<text transform="translate(400.00,419.47)" text-anchor="end" font-size="10.4" fill="#151515">0.30</text>
<line x1="400.80" y1="415.12" x2="402.50" y2="415.12" stroke="#222" stroke-width="1"/>
<text transform="translate(400.00,397.71)" text-anchor="end" font-size="10.4" fill="#151515">0.40</text>
<line x1="400.80" y1="393.36" x2="402.50" y2="393.36" stroke="#222" stroke-width="1"/>
<text transform="translate(400.00,375.95)" text-anchor="end" font-size="10.4" fill="#151515">0.50</text>
<line x1="400.80" y1="371.60" x2="402.50" y2="371.60" stroke="#222" stroke-width="1"/>
<text transform="translate(400.00,354.19)" text-anchor="end" font-size="10.4" fill="#151515">0.60</text>
<line x1="400.80" y1="349.84" x2="402.50" y2="349.84" stroke="#222" stroke-width="1"/>
<text transform="translate(400.00,332.43)" text-anchor="end" font-size="10.4" fill="#151515">0.70</text>
<line x1="400.80" y1="328.08" x2="402.50" y2="328.08" stroke="#222" stroke-width="1"/>
<text transform="translate(400.00,310.67)" text-anchor="end" font-size="10.4" fill="#151515">0.80</text>
<line x1="400.80" y1="306.32" x2="402.50" y2="306.32" stroke="#222" stroke-width="1"/>
<text transform="translate(400.00,288.91)" text-anchor="end" font-size="10.4" fill="#151515">0.90</text>
<line x1="400.80" y1="284.56" x2="402.50" y2="284.56" stroke="#222" stroke-width="1"/>
<text transform="translate(400.00,267.15)" text-anchor="end" font-size="10.4" fill="#151515">1.00</text>
<line x1="400.80" y1="262.80" x2="402.50" y2="262.80" stroke="#222" stroke-width="1"/>
<line x1="429.60" y1="468.50" x2="429.60" y2="470.00" stroke="#222" stroke-width="1"/>
<line x1="474.68" y1="468.50" x2="474.68" y2="470.00" stroke="#222" stroke-width="1"/>
<line x1="519.76" y1="468.50" x2="519.76" y2="470.00" stroke="#222" stroke-width="1"/>
<line x1="564.84" y1="468.50" x2="564.84" y2="470.00" stroke="#222" stroke-width="1"/>
<line x1="609.92" y1="468.50" x2="609.92" y2="470.00" stroke="#222" stroke-width="1"/>
<line x1="655.00" y1="468.50" x2="655.00" y2="470.00" stroke="#222" stroke-width="1"/>
<path d="M402.50,253.10 V468.50 H681.70" fill="none" stroke="#3c3c3c" stroke-width="1.0"/>
<line x1="415.60" y1="338.20" x2="415.60" y2="376.30" stroke="#a0a0a0" stroke-width="1.0"/>
<line x1="421.20" y1="344.30" x2="421.20" y2="387.70" stroke="#a0a0a0" stroke-width="1.0"/>
<line x1="426.80" y1="357.80" x2="426.80" y2="424.60" stroke="#a0a0a0" stroke-width="1.0"/>
<line x1="432.40" y1="329.60" x2="432.40" y2="363.00" stroke="#a0a0a0" stroke-width="1.0"/>
<line x1="438.00" y1="321.10" x2="438.00" y2="354.60" stroke="#a0a0a0" stroke-width="1.0"/>
<line x1="443.60" y1="313.80" x2="443.60" y2="347.70" stroke="#a0a0a0" stroke-width="1.0"/>
<line x1="460.68" y1="338.50" x2="460.68" y2="368.60" stroke="#a0a0a0" stroke-width="1.0"/>
<line x1="466.28" y1="333.30" x2="466.28" y2="375.20" stroke="#a0a0a0" stroke-width="1.0"/>
<line x1="471.88" y1="367.20" x2="471.88" y2="399.60" stroke="#a0a0a0" stroke-width="1.0"/>
<line x1="477.48" y1="341.40" x2="477.48" y2="368.60" stroke="#a0a0a0" stroke-width="1.0"/>
<line x1="483.08" y1="336.30" x2="483.08" y2="369.30" stroke="#a0a0a0" stroke-width="1.0"/>
<line x1="488.68" y1="330.00" x2="488.68" y2="358.30" stroke="#a0a0a0" stroke-width="1.0"/>
<line x1="505.76" y1="308.70" x2="505.76" y2="324.00" stroke="#a0a0a0" stroke-width="1.0"/>
<line x1="511.36" y1="301.80" x2="511.36" y2="326.10" stroke="#a0a0a0" stroke-width="1.0"/>
<line x1="516.96" y1="325.00" x2="516.96" y2="341.00" stroke="#a0a0a0" stroke-width="1.0"/>
<line x1="522.56" y1="317.20" x2="522.56" y2="325.60" stroke="#a0a0a0" stroke-width="1.0"/>
<line x1="528.16" y1="314.30" x2="528.16" y2="327.70" stroke="#a0a0a0" stroke-width="1.0"/>
<line x1="533.76" y1="312.20" x2="533.76" y2="321.80" stroke="#a0a0a0" stroke-width="1.0"/>
<line x1="550.84" y1="280.40" x2="550.84" y2="291.70" stroke="#a0a0a0" stroke-width="1.0"/>
<line x1="556.44" y1="277.80" x2="556.44" y2="291.50" stroke="#a0a0a0" stroke-width="1.0"/>
<line x1="562.04" y1="286.30" x2="562.04" y2="297.00" stroke="#a0a0a0" stroke-width="1.0"/>
<line x1="567.64" y1="283.10" x2="567.64" y2="289.00" stroke="#a0a0a0" stroke-width="1.0"/>
<line x1="573.24" y1="284.20" x2="573.24" y2="291.70" stroke="#a0a0a0" stroke-width="1.0"/>
<line x1="578.84" y1="284.40" x2="578.84" y2="289.30" stroke="#a0a0a0" stroke-width="1.0"/>
<line x1="595.92" y1="275.30" x2="595.92" y2="284.90" stroke="#a0a0a0" stroke-width="1.0"/>
<line x1="601.52" y1="271.00" x2="601.52" y2="284.30" stroke="#a0a0a0" stroke-width="1.0"/>
<line x1="607.12" y1="279.30" x2="607.12" y2="290.70" stroke="#a0a0a0" stroke-width="1.0"/>
<line x1="612.72" y1="276.30" x2="612.72" y2="283.30" stroke="#a0a0a0" stroke-width="1.0"/>
<line x1="618.32" y1="277.40" x2="618.32" y2="284.30" stroke="#a0a0a0" stroke-width="1.0"/>
<line x1="623.92" y1="278.20" x2="623.92" y2="283.30" stroke="#a0a0a0" stroke-width="1.0"/>
<line x1="641.00" y1="273.30" x2="641.00" y2="281.10" stroke="#a0a0a0" stroke-width="1.0"/>
<line x1="646.60" y1="270.80" x2="646.60" y2="281.50" stroke="#a0a0a0" stroke-width="1.0"/>
<line x1="652.20" y1="276.50" x2="652.20" y2="285.10" stroke="#a0a0a0" stroke-width="1.0"/>
<line x1="657.80" y1="274.20" x2="657.80" y2="279.00" stroke="#a0a0a0" stroke-width="1.0"/>
<line x1="663.40" y1="276.10" x2="663.40" y2="281.10" stroke="#a0a0a0" stroke-width="1.0"/>
<line x1="669.00" y1="276.30" x2="669.00" y2="280.10" stroke="#a0a0a0" stroke-width="1.0"/>
<rect x="413.10" y="355.80" width="5.00" height="11.60" fill="#1EDAF2" stroke="#0f6d79" stroke-width="0.6"/>
<line x1="413.10" y1="359.00" x2="418.10" y2="359.00" stroke="#094148" stroke-width="1.0"/>
<rect x="418.70" y="360.80" width="5.00" height="11.70" fill="#F5525A" stroke="#7a292d" stroke-width="0.6"/>
<line x1="418.70" y1="367.10" x2="423.70" y2="367.10" stroke="#49181b" stroke-width="1.0"/>
<rect x="424.30" y="389.10" width="5.00" height="24.20" fill="#1E96F5" stroke="#0f4b7a" stroke-width="0.6"/>
<line x1="424.30" y1="405.50" x2="429.30" y2="405.50" stroke="#092d49" stroke-width="1.0"/>
<rect x="429.90" y="342.10" width="5.00" height="12.10" fill="#7AB41E" stroke="#3d5a0f" stroke-width="0.6"/>
<line x1="429.90" y1="348.40" x2="434.90" y2="348.40" stroke="#243609" stroke-width="1.0"/>
<rect x="435.50" y="333.30" width="5.00" height="11.00" fill="#F5BE0A" stroke="#7a5f05" stroke-width="0.6"/>
<line x1="435.50" y1="339.50" x2="440.50" y2="339.50" stroke="#493903" stroke-width="1.0"/>
<rect x="441.10" y="325.50" width="5.00" height="8.80" fill="#8A8CF8" stroke="#45467c" stroke-width="0.6"/>
<line x1="441.10" y1="330.00" x2="446.10" y2="330.00" stroke="#292a4a" stroke-width="1.0"/>
<rect x="458.18" y="352.00" width="5.00" height="8.20" fill="#1EDAF2" stroke="#0f6d79" stroke-width="0.6"/>
<line x1="458.18" y1="355.80" x2="463.18" y2="355.80" stroke="#094148" stroke-width="1.0"/>
<rect x="463.78" y="349.90" width="5.00" height="12.30" fill="#F5525A" stroke="#7a292d" stroke-width="0.6"/>
<line x1="463.78" y1="357.30" x2="468.78" y2="357.30" stroke="#49181b" stroke-width="1.0"/>
<rect x="469.38" y="382.10" width="5.00" height="9.20" fill="#1E96F5" stroke="#0f4b7a" stroke-width="0.6"/>
<line x1="469.38" y1="386.30" x2="474.38" y2="386.30" stroke="#092d49" stroke-width="1.0"/>
<rect x="474.98" y="351.70" width="5.00" height="6.90" fill="#7AB41E" stroke="#3d5a0f" stroke-width="0.6"/>
<line x1="474.98" y1="354.20" x2="479.98" y2="354.20" stroke="#243609" stroke-width="1.0"/>
<rect x="480.58" y="346.50" width="5.00" height="9.60" fill="#F5BE0A" stroke="#7a5f05" stroke-width="0.6"/>
<line x1="480.58" y1="350.20" x2="485.58" y2="350.20" stroke="#493903" stroke-width="1.0"/>
<rect x="486.18" y="339.60" width="5.00" height="9.40" fill="#8A8CF8" stroke="#45467c" stroke-width="0.6"/>
<line x1="486.18" y1="344.30" x2="491.18" y2="344.30" stroke="#292a4a" stroke-width="1.0"/>
<rect x="503.26" y="314.70" width="5.00" height="4.40" fill="#1EDAF2" stroke="#0f6d79" stroke-width="0.6"/>
<line x1="503.26" y1="317.00" x2="508.26" y2="317.00" stroke="#094148" stroke-width="1.0"/>
<rect x="508.86" y="311.50" width="5.00" height="7.60" fill="#F5525A" stroke="#7a292d" stroke-width="0.6"/>
<line x1="508.86" y1="315.40" x2="513.86" y2="315.40" stroke="#49181b" stroke-width="1.0"/>
<rect x="514.46" y="330.70" width="5.00" height="5.00" fill="#1E96F5" stroke="#0f4b7a" stroke-width="0.6"/>
<line x1="514.46" y1="332.20" x2="519.46" y2="332.20" stroke="#092d49" stroke-width="1.0"/>
<rect x="520.06" y="319.70" width="5.00" height="2.90" fill="#7AB41E" stroke="#3d5a0f" stroke-width="0.6"/>
<line x1="520.06" y1="321.10" x2="525.06" y2="321.10" stroke="#243609" stroke-width="1.0"/>
<rect x="525.66" y="318.30" width="5.00" height="3.20" fill="#F5BE0A" stroke="#7a5f05" stroke-width="0.6"/>
<line x1="525.66" y1="319.70" x2="530.66" y2="319.70" stroke="#493903" stroke-width="1.0"/>
<rect x="531.26" y="315.10" width="5.00" height="3.00" fill="#8A8CF8" stroke="#45467c" stroke-width="0.6"/>
<line x1="531.26" y1="316.50" x2="536.26" y2="316.50" stroke="#292a4a" stroke-width="1.0"/>
<rect x="548.34" y="284.20" width="5.00" height="2.70" fill="#1EDAF2" stroke="#0f6d79" stroke-width="0.6"/>
<line x1="548.34" y1="285.50" x2="553.34" y2="285.50" stroke="#094148" stroke-width="1.0"/>
<rect x="553.94" y="283.10" width="5.00" height="3.80" fill="#F5525A" stroke="#7a292d" stroke-width="0.6"/>
<line x1="553.94" y1="284.70" x2="558.94" y2="284.70" stroke="#49181b" stroke-width="1.0"/>
<rect x="559.54" y="290.60" width="5.00" height="3.20" fill="#1E96F5" stroke="#0f4b7a" stroke-width="0.6"/>
<line x1="559.54" y1="292.20" x2="564.54" y2="292.20" stroke="#092d49" stroke-width="1.0"/>
<rect x="565.14" y="286.30" width="5.00" height="1.30" fill="#7AB41E" stroke="#3d5a0f" stroke-width="0.6"/>
<line x1="565.14" y1="287.00" x2="570.14" y2="287.00" stroke="#243609" stroke-width="1.0"/>
<rect x="570.74" y="286.90" width="5.00" height="2.40" fill="#F5BE0A" stroke="#7a5f05" stroke-width="0.6"/>
<line x1="570.74" y1="287.60" x2="575.74" y2="287.60" stroke="#493903" stroke-width="1.0"/>
<rect x="576.34" y="286.30" width="5.00" height="1.30" fill="#8A8CF8" stroke="#45467c" stroke-width="0.6"/>
<line x1="576.34" y1="287.00" x2="581.34" y2="287.00" stroke="#292a4a" stroke-width="1.0"/>
<rect x="593.42" y="279.00" width="5.00" height="2.50" fill="#1EDAF2" stroke="#0f6d79" stroke-width="0.6"/>
<line x1="593.42" y1="280.20" x2="598.42" y2="280.20" stroke="#094148" stroke-width="1.0"/>
<rect x="599.02" y="277.90" width="5.00" height="3.20" fill="#F5525A" stroke="#7a292d" stroke-width="0.6"/>
<line x1="599.02" y1="279.50" x2="604.02" y2="279.50" stroke="#49181b" stroke-width="1.0"/>
<rect x="604.62" y="283.30" width="5.00" height="3.20" fill="#1E96F5" stroke="#0f4b7a" stroke-width="0.6"/>
<line x1="604.62" y1="284.90" x2="609.62" y2="284.90" stroke="#092d49" stroke-width="1.0"/>
<rect x="610.22" y="279.30" width="5.00" height="1.50" fill="#7AB41E" stroke="#3d5a0f" stroke-width="0.6"/>
<line x1="610.22" y1="280.00" x2="615.22" y2="280.00" stroke="#243609" stroke-width="1.0"/>
<rect x="615.82" y="280.60" width="5.00" height="1.30" fill="#F5BE0A" stroke="#7a5f05" stroke-width="0.6"/>
<line x1="615.82" y1="281.30" x2="620.82" y2="281.30" stroke="#493903" stroke-width="1.0"/>
<rect x="621.42" y="280.10" width="5.00" height="1.60" fill="#8A8CF8" stroke="#45467c" stroke-width="0.6"/>
<line x1="621.42" y1="281.00" x2="626.42" y2="281.00" stroke="#292a4a" stroke-width="1.0"/>
<rect x="638.50" y="276.30" width="5.00" height="2.20" fill="#1EDAF2" stroke="#0f6d79" stroke-width="0.6"/>
<line x1="638.50" y1="277.40" x2="643.50" y2="277.40" stroke="#094148" stroke-width="1.0"/>
<rect x="644.10" y="276.10" width="5.00" height="2.40" fill="#F5525A" stroke="#7a292d" stroke-width="0.6"/>
<line x1="644.10" y1="277.30" x2="649.10" y2="277.30" stroke="#49181b" stroke-width="1.0"/>
<rect x="649.70" y="279.30" width="5.00" height="2.60" fill="#1E96F5" stroke="#0f4b7a" stroke-width="0.6"/>
<line x1="649.70" y1="280.60" x2="654.70" y2="280.60" stroke="#092d49" stroke-width="1.0"/>
<rect x="655.30" y="276.00" width="5.00" height="1.60" fill="#7AB41E" stroke="#3d5a0f" stroke-width="0.6"/>
<line x1="655.30" y1="276.80" x2="660.30" y2="276.80" stroke="#243609" stroke-width="1.0"/>
<rect x="660.90" y="277.90" width="5.00" height="1.60" fill="#F5BE0A" stroke="#7a5f05" stroke-width="0.6"/>
<line x1="660.90" y1="278.70" x2="665.90" y2="278.70" stroke="#493903" stroke-width="1.0"/>
<rect x="666.50" y="277.60" width="5.00" height="1.40" fill="#8A8CF8" stroke="#45467c" stroke-width="0.6"/>
<line x1="666.50" y1="278.30" x2="671.50" y2="278.30" stroke="#292a4a" stroke-width="1.0"/>
<rect x="415.10" y="310.60" width="1.0" height="1.4" fill="#a0a0a0"/>
<rect x="415.10" y="312.30" width="1.0" height="1.4" fill="#a0a0a0"/>
<rect x="415.10" y="315.30" width="1.0" height="1.4" fill="#a0a0a0"/>
<rect x="415.10" y="330.60" width="1.0" height="1.4" fill="#a0a0a0"/>
<rect x="415.10" y="334.60" width="1.0" height="1.4" fill="#a0a0a0"/>
<rect x="420.70" y="305.00" width="1.0" height="1.4" fill="#a0a0a0"/>
<rect x="420.70" y="305.60" width="1.0" height="1.4" fill="#a0a0a0"/>
<rect x="420.70" y="307.60" width="1.0" height="1.4" fill="#a0a0a0"/>
<rect x="420.70" y="326.60" width="1.0" height="1.4" fill="#a0a0a0"/>
<rect x="420.70" y="331.80" width="1.0" height="1.4" fill="#a0a0a0"/>
<rect x="420.70" y="334.00" width="1.0" height="1.4" fill="#a0a0a0"/>
<rect x="420.70" y="338.60" width="1.0" height="1.4" fill="#a0a0a0"/>
<rect x="426.30" y="332.00" width="1.0" height="1.4" fill="#a0a0a0"/>
<rect x="426.30" y="333.30" width="1.0" height="1.4" fill="#a0a0a0"/>
<rect x="426.30" y="338.00" width="1.0" height="1.4" fill="#a0a0a0"/>
<rect x="465.78" y="317.20" width="1.0" height="1.4" fill="#a0a0a0"/>
<rect x="465.78" y="320.90" width="1.0" height="1.4" fill="#a0a0a0"/>
<rect x="465.78" y="329.30" width="1.0" height="1.4" fill="#a0a0a0"/>
<rect x="482.58" y="375.90" width="1.0" height="1.4" fill="#a0a0a0"/>
<rect x="482.58" y="383.30" width="1.0" height="1.4" fill="#a0a0a0"/>
<rect x="510.86" y="294.30" width="1.0" height="1.4" fill="#a0a0a0"/>
<rect x="510.86" y="296.80" width="1.0" height="1.4" fill="#a0a0a0"/>
<rect x="522.06" y="329.70" width="1.0" height="1.4" fill="#a0a0a0"/>
<rect x="527.66" y="328.30" width="1.0" height="1.4" fill="#a0a0a0"/>
<rect x="527.66" y="330.90" width="1.0" height="1.4" fill="#a0a0a0"/>
<rect x="527.66" y="335.50" width="1.0" height="1.4" fill="#a0a0a0"/>
<rect x="555.94" y="274.70" width="1.0" height="1.4" fill="#a0a0a0"/>
<rect x="561.54" y="298.20" width="1.0" height="1.4" fill="#a0a0a0"/>
<text transform="translate(45.80,693.73)" text-anchor="end" font-size="10.4" fill="#151515">0.30</text>
<line x1="46.60" y1="689.38" x2="48.30" y2="689.38" stroke="#222" stroke-width="1"/>
<text transform="translate(45.80,661.10)" text-anchor="end" font-size="10.4" fill="#151515">0.40</text>
<line x1="46.60" y1="656.75" x2="48.30" y2="656.75" stroke="#222" stroke-width="1"/>
<text transform="translate(45.80,628.47)" text-anchor="end" font-size="10.4" fill="#151515">0.50</text>
<line x1="46.60" y1="624.12" x2="48.30" y2="624.12" stroke="#222" stroke-width="1"/>
<text transform="translate(45.80,595.84)" text-anchor="end" font-size="10.4" fill="#151515">0.60</text>
<line x1="46.60" y1="591.49" x2="48.30" y2="591.49" stroke="#222" stroke-width="1"/>
<text transform="translate(45.80,563.21)" text-anchor="end" font-size="10.4" fill="#151515">0.70</text>
<line x1="46.60" y1="558.86" x2="48.30" y2="558.86" stroke="#222" stroke-width="1"/>
<text transform="translate(45.80,530.58)" text-anchor="end" font-size="10.4" fill="#151515">0.80</text>
<line x1="46.60" y1="526.23" x2="48.30" y2="526.23" stroke="#222" stroke-width="1"/>
<text transform="translate(45.80,497.95)" text-anchor="end" font-size="10.4" fill="#151515">0.90</text>
<line x1="46.60" y1="493.60" x2="48.30" y2="493.60" stroke="#222" stroke-width="1"/>
<line x1="75.40" y1="699.50" x2="75.40" y2="701.00" stroke="#222" stroke-width="1"/>
<line x1="120.52" y1="699.50" x2="120.52" y2="701.00" stroke="#222" stroke-width="1"/>
<line x1="165.64" y1="699.50" x2="165.64" y2="701.00" stroke="#222" stroke-width="1"/>
<line x1="210.76" y1="699.50" x2="210.76" y2="701.00" stroke="#222" stroke-width="1"/>
<line x1="255.88" y1="699.50" x2="255.88" y2="701.00" stroke="#222" stroke-width="1"/>
<line x1="301.00" y1="699.50" x2="301.00" y2="701.00" stroke="#222" stroke-width="1"/>
<path d="M48.30,484.00 V699.50 H328.00" fill="none" stroke="#3c3c3c" stroke-width="1.0"/>
<text transform="translate(77.50,709.00) rotate(-15) scale(1,1.04)" text-anchor="end" font-size="10.4" fill="#151515">&lt; 0.1%</text>
<text transform="translate(122.62,709.00) rotate(-15) scale(1,1.04)" text-anchor="end" font-size="10.4" fill="#151515">0.1%-1%</text>
<text transform="translate(167.74,709.00) rotate(-15) scale(1,1.04)" text-anchor="end" font-size="10.4" fill="#151515">1%-5%</text>
<text transform="translate(212.86,709.00) rotate(-15) scale(1,1.04)" text-anchor="end" font-size="10.4" fill="#151515">5%-10%</text>
<text transform="translate(257.98,709.00) rotate(-15) scale(1,1.04)" text-anchor="end" font-size="10.4" fill="#151515">10%-20%</text>
<text transform="translate(303.10,709.00) rotate(-15) scale(1,1.04)" text-anchor="end" font-size="10.4" fill="#151515">20%-50%</text>
<polyline points="75.40,630.11 120.52,589.85 165.64,532.58 210.76,508.68 255.88,513.27 301.00,529.30" fill="none" stroke="#1EDAF2" stroke-width="1.22" stroke-linejoin="round"/>
<polyline points="75.40,616.69 120.52,571.20 165.64,521.78 210.76,500.83 255.88,504.10 301.00,517.85" fill="none" stroke="#F5525A" stroke-width="1.22" stroke-linejoin="round"/>
<polyline points="75.40,661.86 120.52,625.86 165.64,551.56 210.76,523.08 255.88,529.96 301.00,550.58" fill="none" stroke="#1E96F5" stroke-width="1.22" stroke-linejoin="round"/>
<polyline points="75.40,645.49 120.52,624.22 165.64,550.58 210.76,522.43 255.88,527.99 301.00,547.96" fill="none" stroke="#7AB41E" stroke-width="1.22" stroke-linejoin="round"/>
<polyline points="75.40,640.91 120.52,630.11 165.64,555.81 210.76,520.14 255.88,523.41 301.00,540.43" fill="none" stroke="#F5BE0A" stroke-width="1.22" stroke-linejoin="round"/>
<polyline points="75.40,637.31 120.52,608.51 165.64,549.27 210.76,522.43 255.88,526.03 301.00,543.05" fill="none" stroke="#8A8CF8" stroke-width="1.22" stroke-linejoin="round"/>
<circle cx="75.40" cy="640.91" r="2.05" fill="#F5BE0A"/>
<circle cx="120.52" cy="630.11" r="2.05" fill="#F5BE0A"/>
<circle cx="165.64" cy="555.81" r="2.05" fill="#F5BE0A"/>
<circle cx="210.76" cy="520.14" r="2.05" fill="#F5BE0A"/>
<circle cx="255.88" cy="523.41" r="2.05" fill="#F5BE0A"/>
<circle cx="301.00" cy="540.43" r="2.05" fill="#F5BE0A"/>
<circle cx="75.40" cy="630.11" r="2.05" fill="#1EDAF2"/>
<circle cx="120.52" cy="589.85" r="2.05" fill="#1EDAF2"/>
<circle cx="165.64" cy="532.58" r="2.05" fill="#1EDAF2"/>
<circle cx="210.76" cy="508.68" r="2.05" fill="#1EDAF2"/>
<circle cx="255.88" cy="513.27" r="2.05" fill="#1EDAF2"/>
<circle cx="301.00" cy="529.30" r="2.05" fill="#1EDAF2"/>
<circle cx="75.40" cy="616.69" r="2.05" fill="#F5525A"/>
<circle cx="120.52" cy="571.20" r="2.05" fill="#F5525A"/>
<circle cx="165.64" cy="521.78" r="2.05" fill="#F5525A"/>
<circle cx="210.76" cy="500.83" r="2.05" fill="#F5525A"/>
<circle cx="255.88" cy="504.10" r="2.05" fill="#F5525A"/>
<circle cx="301.00" cy="517.85" r="2.05" fill="#F5525A"/>
<circle cx="75.40" cy="645.49" r="2.05" fill="#7AB41E"/>
<circle cx="120.52" cy="624.22" r="2.05" fill="#7AB41E"/>
<circle cx="165.64" cy="550.58" r="2.05" fill="#7AB41E"/>
<circle cx="210.76" cy="522.43" r="2.05" fill="#7AB41E"/>
<circle cx="255.88" cy="527.99" r="2.05" fill="#7AB41E"/>
<circle cx="301.00" cy="547.96" r="2.05" fill="#7AB41E"/>
<circle cx="75.40" cy="637.31" r="2.05" fill="#8A8CF8"/>
<circle cx="120.52" cy="608.51" r="2.05" fill="#8A8CF8"/>
<circle cx="165.64" cy="549.27" r="2.05" fill="#8A8CF8"/>
<circle cx="210.76" cy="522.43" r="2.05" fill="#8A8CF8"/>
<circle cx="255.88" cy="526.03" r="2.05" fill="#8A8CF8"/>
<circle cx="301.00" cy="543.05" r="2.05" fill="#8A8CF8"/>
<circle cx="75.40" cy="661.86" r="2.05" fill="#1E96F5"/>
<circle cx="120.52" cy="625.86" r="2.05" fill="#1E96F5"/>
<circle cx="165.64" cy="551.56" r="2.05" fill="#1E96F5"/>
<circle cx="210.76" cy="523.08" r="2.05" fill="#1E96F5"/>
<circle cx="255.88" cy="529.96" r="2.05" fill="#1E96F5"/>
<circle cx="301.00" cy="550.58" r="2.05" fill="#1E96F5"/>
<text transform="translate(400.00,693.73)" text-anchor="end" font-size="10.4" fill="#151515">0.30</text>
<line x1="400.80" y1="689.38" x2="402.50" y2="689.38" stroke="#222" stroke-width="1"/>
<text transform="translate(400.00,661.10)" text-anchor="end" font-size="10.4" fill="#151515">0.40</text>
<line x1="400.80" y1="656.75" x2="402.50" y2="656.75" stroke="#222" stroke-width="1"/>
<text transform="translate(400.00,628.47)" text-anchor="end" font-size="10.4" fill="#151515">0.50</text>
<line x1="400.80" y1="624.12" x2="402.50" y2="624.12" stroke="#222" stroke-width="1"/>
<text transform="translate(400.00,595.84)" text-anchor="end" font-size="10.4" fill="#151515">0.60</text>
<line x1="400.80" y1="591.49" x2="402.50" y2="591.49" stroke="#222" stroke-width="1"/>
<text transform="translate(400.00,563.21)" text-anchor="end" font-size="10.4" fill="#151515">0.70</text>
<line x1="400.80" y1="558.86" x2="402.50" y2="558.86" stroke="#222" stroke-width="1"/>
<text transform="translate(400.00,530.58)" text-anchor="end" font-size="10.4" fill="#151515">0.80</text>
<line x1="400.80" y1="526.23" x2="402.50" y2="526.23" stroke="#222" stroke-width="1"/>
<text transform="translate(400.00,497.95)" text-anchor="end" font-size="10.4" fill="#151515">0.90</text>
<line x1="400.80" y1="493.60" x2="402.50" y2="493.60" stroke="#222" stroke-width="1"/>
<line x1="429.80" y1="699.50" x2="429.80" y2="701.00" stroke="#222" stroke-width="1"/>
<line x1="474.84" y1="699.50" x2="474.84" y2="701.00" stroke="#222" stroke-width="1"/>
<line x1="519.88" y1="699.50" x2="519.88" y2="701.00" stroke="#222" stroke-width="1"/>
<line x1="564.92" y1="699.50" x2="564.92" y2="701.00" stroke="#222" stroke-width="1"/>
<line x1="609.96" y1="699.50" x2="609.96" y2="701.00" stroke="#222" stroke-width="1"/>
<line x1="655.00" y1="699.50" x2="655.00" y2="701.00" stroke="#222" stroke-width="1"/>
<path d="M402.50,484.40 V699.50 H681.70" fill="none" stroke="#3c3c3c" stroke-width="1.0"/>
<text transform="translate(431.90,709.00) rotate(-15) scale(1,1.04)" text-anchor="end" font-size="10.4" fill="#151515">&lt; 0.1%</text>
<text transform="translate(476.94,709.00) rotate(-15) scale(1,1.04)" text-anchor="end" font-size="10.4" fill="#151515">0.1%-1%</text>
<text transform="translate(521.98,709.00) rotate(-15) scale(1,1.04)" text-anchor="end" font-size="10.4" fill="#151515">1%-5%</text>
<text transform="translate(567.02,709.00) rotate(-15) scale(1,1.04)" text-anchor="end" font-size="10.4" fill="#151515">5%-10%</text>
<text transform="translate(612.06,709.00) rotate(-15) scale(1,1.04)" text-anchor="end" font-size="10.4" fill="#151515">10%-20%</text>
<text transform="translate(657.10,709.00) rotate(-15) scale(1,1.04)" text-anchor="end" font-size="10.4" fill="#151515">20%-50%</text>
<polyline points="429.80,626.71 474.84,599.87 519.88,562.89 564.92,519.03 609.96,512.48 655.00,520.99" fill="none" stroke="#1EDAF2" stroke-width="1.22" stroke-linejoin="round"/>
<polyline points="429.80,633.91 474.84,597.58 519.88,559.94 564.92,515.10 609.96,507.90 655.00,515.10" fill="none" stroke="#F5525A" stroke-width="1.22" stroke-linejoin="round"/>
<polyline points="429.80,671.55 474.84,633.58 519.88,582.53 564.92,530.81 609.96,524.27 655.00,534.74" fill="none" stroke="#1E96F5" stroke-width="1.22" stroke-linejoin="round"/>
<polyline points="429.80,613.95 474.84,599.87 519.88,568.78 564.92,522.96 609.96,517.07 655.00,526.23" fill="none" stroke="#7AB41E" stroke-width="1.22" stroke-linejoin="round"/>
<polyline points="429.80,603.80 474.84,599.87 519.88,567.47 564.92,516.08 609.96,507.90 655.00,513.14" fill="none" stroke="#F5BE0A" stroke-width="1.22" stroke-linejoin="round"/>
<polyline points="429.80,603.15 474.84,593.65 519.88,565.83 564.92,522.30 609.96,515.10 655.00,521.32" fill="none" stroke="#8A8CF8" stroke-width="1.22" stroke-linejoin="round"/>
<circle cx="429.80" cy="603.80" r="2.05" fill="#F5BE0A"/>
<circle cx="474.84" cy="599.87" r="2.05" fill="#F5BE0A"/>
<circle cx="519.88" cy="567.47" r="2.05" fill="#F5BE0A"/>
<circle cx="564.92" cy="516.08" r="2.05" fill="#F5BE0A"/>
<circle cx="609.96" cy="507.90" r="2.05" fill="#F5BE0A"/>
<circle cx="655.00" cy="513.14" r="2.05" fill="#F5BE0A"/>
<circle cx="429.80" cy="626.71" r="2.05" fill="#1EDAF2"/>
<circle cx="474.84" cy="599.87" r="2.05" fill="#1EDAF2"/>
<circle cx="519.88" cy="562.89" r="2.05" fill="#1EDAF2"/>
<circle cx="564.92" cy="519.03" r="2.05" fill="#1EDAF2"/>
<circle cx="609.96" cy="512.48" r="2.05" fill="#1EDAF2"/>
<circle cx="655.00" cy="520.99" r="2.05" fill="#1EDAF2"/>
<circle cx="429.80" cy="633.91" r="2.05" fill="#F5525A"/>
<circle cx="474.84" cy="597.58" r="2.05" fill="#F5525A"/>
<circle cx="519.88" cy="559.94" r="2.05" fill="#F5525A"/>
<circle cx="564.92" cy="515.10" r="2.05" fill="#F5525A"/>
<circle cx="609.96" cy="507.90" r="2.05" fill="#F5525A"/>
<circle cx="655.00" cy="515.10" r="2.05" fill="#F5525A"/>
<circle cx="429.80" cy="613.95" r="2.05" fill="#7AB41E"/>
<circle cx="474.84" cy="599.87" r="2.05" fill="#7AB41E"/>
<circle cx="519.88" cy="568.78" r="2.05" fill="#7AB41E"/>
<circle cx="564.92" cy="522.96" r="2.05" fill="#7AB41E"/>
<circle cx="609.96" cy="517.07" r="2.05" fill="#7AB41E"/>
<circle cx="655.00" cy="526.23" r="2.05" fill="#7AB41E"/>
<circle cx="429.80" cy="603.15" r="2.05" fill="#8A8CF8"/>
<circle cx="474.84" cy="593.65" r="2.05" fill="#8A8CF8"/>
<circle cx="519.88" cy="565.83" r="2.05" fill="#8A8CF8"/>
<circle cx="564.92" cy="522.30" r="2.05" fill="#8A8CF8"/>
<circle cx="609.96" cy="515.10" r="2.05" fill="#8A8CF8"/>
<circle cx="655.00" cy="521.32" r="2.05" fill="#8A8CF8"/>
<circle cx="429.80" cy="671.55" r="2.05" fill="#1E96F5"/>
<circle cx="474.84" cy="633.58" r="2.05" fill="#1E96F5"/>
<circle cx="519.88" cy="582.53" r="2.05" fill="#1E96F5"/>
<circle cx="564.92" cy="530.81" r="2.05" fill="#1E96F5"/>
<circle cx="609.96" cy="524.27" r="2.05" fill="#1E96F5"/>
<circle cx="655.00" cy="534.74" r="2.05" fill="#1E96F5"/>
<text transform="translate(566.20,149.30) scale(1,1.04)" font-size="12.85" font-weight="bold" fill="#111">Reference Panels</text>
<line x1="581.80" y1="159.90" x2="591.00" y2="159.90" stroke="#1EDAF2" stroke-width="1.6" stroke-opacity="0.78"/>
<circle cx="586.40" cy="159.90" r="2.3" fill="#1EDAF2" fill-opacity="0.78"/>
<text transform="translate(595.80,164.65) scale(1,1.04)" font-size="12.9" fill="#111">CHN100k</text>
<line x1="581.80" y1="171.84" x2="591.00" y2="171.84" stroke="#F5525A" stroke-width="1.6" stroke-opacity="0.78"/>
<circle cx="586.40" cy="171.84" r="2.3" fill="#F5525A" fill-opacity="0.78"/>
<text transform="translate(595.80,176.59) scale(1,1.04)" font-size="12.9" fill="#111">ChinaMAP</text>
<line x1="581.80" y1="183.78" x2="591.00" y2="183.78" stroke="#1E96F5" stroke-width="1.6" stroke-opacity="0.78"/>
<circle cx="586.40" cy="183.78" r="2.3" fill="#1E96F5" fill-opacity="0.78"/>
<text transform="translate(595.80,188.53) scale(1,1.04)" font-size="12.9" fill="#111">WBBC</text>
<line x1="581.80" y1="195.72" x2="591.00" y2="195.72" stroke="#7AB41E" stroke-width="1.6" stroke-opacity="0.78"/>
<circle cx="586.40" cy="195.72" r="2.3" fill="#7AB41E" fill-opacity="0.78"/>
<text transform="translate(595.80,200.47) scale(1,1.04)" font-size="12.9" fill="#111">SEAD</text>
<line x1="581.80" y1="207.66" x2="591.00" y2="207.66" stroke="#F5BE0A" stroke-width="1.6" stroke-opacity="0.78"/>
<circle cx="586.40" cy="207.66" r="2.3" fill="#F5BE0A" fill-opacity="0.78"/>
<text transform="translate(595.80,212.41) scale(1,1.04)" font-size="12.9" fill="#111">1KG</text>
<line x1="581.80" y1="219.60" x2="591.00" y2="219.60" stroke="#8A8CF8" stroke-width="1.6" stroke-opacity="0.78"/>
<circle cx="586.40" cy="219.60" r="2.3" fill="#8A8CF8" fill-opacity="0.78"/>
<text transform="translate(595.80,224.35) scale(1,1.04)" font-size="12.9" fill="#111">TOPMed</text>
<text transform="translate(564.70,379.60) scale(1,1.04)" font-size="12.7" font-weight="bold" fill="#111">Reference Panels</text>
<line x1="585.50" y1="386.20" x2="585.50" y2="388.05" stroke="#aaa" stroke-width="0.7"/>
<line x1="585.50" y1="393.75" x2="585.50" y2="395.60" stroke="#aaa" stroke-width="0.7"/>
<rect x="581.30" y="388.05" width="8.4" height="5.7" fill="#1EDAF2" fill-opacity="0.85" stroke="#16a3b5" stroke-opacity="0.8" stroke-width="0.6"/>
<line x1="581.30" y1="390.90" x2="589.70" y2="390.90" stroke="#128291" stroke-width="0.8"/>
<text transform="translate(593.80,395.20) scale(1,1.04)" font-size="12.57" fill="#111">CHN100k</text>
<line x1="585.50" y1="397.72" x2="585.50" y2="399.57" stroke="#aaa" stroke-width="0.7"/>
<line x1="585.50" y1="405.27" x2="585.50" y2="407.12" stroke="#aaa" stroke-width="0.7"/>
<rect x="581.30" y="399.57" width="8.4" height="5.7" fill="#F5525A" fill-opacity="0.85" stroke="#b73d43" stroke-opacity="0.8" stroke-width="0.6"/>
<line x1="581.30" y1="402.42" x2="589.70" y2="402.42" stroke="#933136" stroke-width="0.8"/>
<text transform="translate(593.80,406.72) scale(1,1.04)" font-size="12.57" fill="#111">ChinaMAP</text>
<line x1="585.50" y1="409.24" x2="585.50" y2="411.09" stroke="#aaa" stroke-width="0.7"/>
<line x1="585.50" y1="416.79" x2="585.50" y2="418.64" stroke="#aaa" stroke-width="0.7"/>
<rect x="581.30" y="411.09" width="8.4" height="5.7" fill="#1E96F5" fill-opacity="0.85" stroke="#1670b7" stroke-opacity="0.8" stroke-width="0.6"/>
<line x1="581.30" y1="413.94" x2="589.70" y2="413.94" stroke="#125a93" stroke-width="0.8"/>
<text transform="translate(593.80,418.24) scale(1,1.04)" font-size="12.57" fill="#111">WBBC</text>
<line x1="585.50" y1="420.76" x2="585.50" y2="422.61" stroke="#aaa" stroke-width="0.7"/>
<line x1="585.50" y1="428.31" x2="585.50" y2="430.16" stroke="#aaa" stroke-width="0.7"/>
<rect x="581.30" y="422.61" width="8.4" height="5.7" fill="#7AB41E" fill-opacity="0.85" stroke="#5b8716" stroke-opacity="0.8" stroke-width="0.6"/>
<line x1="581.30" y1="425.46" x2="589.70" y2="425.46" stroke="#496c12" stroke-width="0.8"/>
<text transform="translate(593.80,429.76) scale(1,1.04)" font-size="12.57" fill="#111">SEAD</text>
<line x1="585.50" y1="432.28" x2="585.50" y2="434.13" stroke="#aaa" stroke-width="0.7"/>
<line x1="585.50" y1="439.83" x2="585.50" y2="441.68" stroke="#aaa" stroke-width="0.7"/>
<rect x="581.30" y="434.13" width="8.4" height="5.7" fill="#F5BE0A" fill-opacity="0.85" stroke="#b78e07" stroke-opacity="0.8" stroke-width="0.6"/>
<line x1="581.30" y1="436.98" x2="589.70" y2="436.98" stroke="#937206" stroke-width="0.8"/>
<text transform="translate(593.80,441.28) scale(1,1.04)" font-size="12.57" fill="#111">1KG</text>
<line x1="585.50" y1="443.80" x2="585.50" y2="445.65" stroke="#aaa" stroke-width="0.7"/>
<line x1="585.50" y1="451.35" x2="585.50" y2="453.20" stroke="#aaa" stroke-width="0.7"/>
<rect x="581.30" y="445.65" width="8.4" height="5.7" fill="#8A8CF8" fill-opacity="0.85" stroke="#6769ba" stroke-opacity="0.8" stroke-width="0.6"/>
<line x1="581.30" y1="448.50" x2="589.70" y2="448.50" stroke="#525494" stroke-width="0.8"/>
<text transform="translate(593.80,452.80) scale(1,1.04)" font-size="12.57" fill="#111">TOPMed</text>
<text transform="translate(562.70,610.00) scale(1,1.04)" font-size="12.85" font-weight="bold" fill="#111">Reference Panels</text>
<line x1="579.20" y1="621.40" x2="588.40" y2="621.40" stroke="#1EDAF2" stroke-width="1.6" stroke-opacity="0.78"/>
<circle cx="583.80" cy="621.40" r="2.3" fill="#1EDAF2" fill-opacity="0.78"/>
<text transform="translate(592.50,625.75) scale(1,1.04)" font-size="12.9" fill="#111">CHN100k</text>
<line x1="579.20" y1="633.16" x2="588.40" y2="633.16" stroke="#F5525A" stroke-width="1.6" stroke-opacity="0.78"/>
<circle cx="583.80" cy="633.16" r="2.3" fill="#F5525A" fill-opacity="0.78"/>
<text transform="translate(592.50,637.51) scale(1,1.04)" font-size="12.9" fill="#111">ChinaMAP</text>
<line x1="579.20" y1="644.92" x2="588.40" y2="644.92" stroke="#1E96F5" stroke-width="1.6" stroke-opacity="0.78"/>
<circle cx="583.80" cy="644.92" r="2.3" fill="#1E96F5" fill-opacity="0.78"/>
<text transform="translate(592.50,649.27) scale(1,1.04)" font-size="12.9" fill="#111">WBBC</text>
<line x1="579.20" y1="656.68" x2="588.40" y2="656.68" stroke="#7AB41E" stroke-width="1.6" stroke-opacity="0.78"/>
<circle cx="583.80" cy="656.68" r="2.3" fill="#7AB41E" fill-opacity="0.78"/>
<text transform="translate(592.50,661.03) scale(1,1.04)" font-size="12.9" fill="#111">SEAD</text>
<line x1="579.20" y1="668.44" x2="588.40" y2="668.44" stroke="#F5BE0A" stroke-width="1.6" stroke-opacity="0.78"/>
<circle cx="583.80" cy="668.44" r="2.3" fill="#F5BE0A" fill-opacity="0.78"/>
<text transform="translate(592.50,672.79) scale(1,1.04)" font-size="12.9" fill="#111">1KG</text>
<line x1="579.20" y1="680.20" x2="588.40" y2="680.20" stroke="#8A8CF8" stroke-width="1.6" stroke-opacity="0.78"/>
<circle cx="583.80" cy="680.20" r="2.3" fill="#8A8CF8" fill-opacity="0.78"/>
<text transform="translate(592.50,684.55) scale(1,1.04)" font-size="12.9" fill="#111">TOPMed</text>
</svg></div></body></html>
